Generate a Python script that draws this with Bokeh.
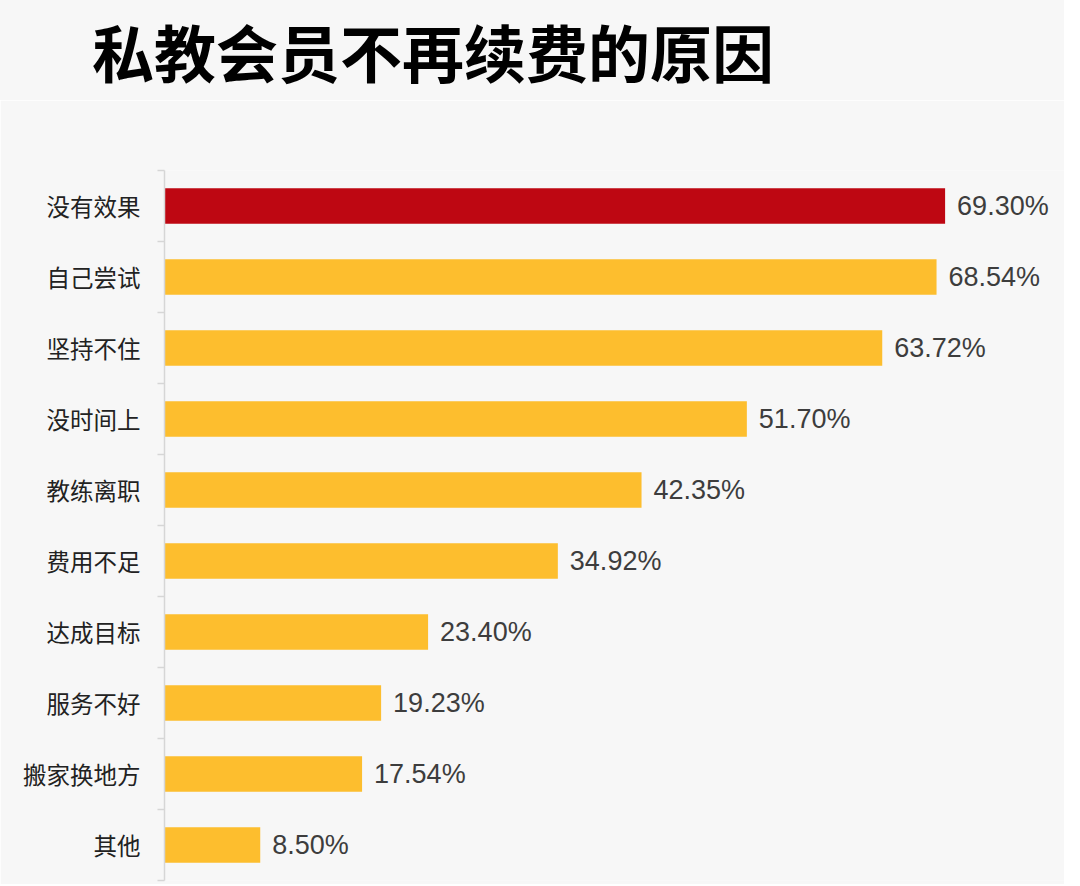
# 私教会员不再续费的原因 - horizontal bar chart

from bokeh.plotting import figure
from bokeh.layouts import column
from bokeh.models import (ColumnDataSource, Range1d, FixedTicker,
                          CustomJSTickFormatter, Div)
from bokeh.core.properties import value
from bokeh.embed import file_html
from bokeh.resources import INLINE

reasons = ["没有效果", "自己尝试", "坚持不住", "没时间上", "教练离职",
           "费用不足", "达成目标", "服务不好", "搬家换地方", "其他"]
shares = [69.30, 68.54, 63.72, 51.70, 42.35, 34.92, 23.40, 19.23, 17.54, 8.50]
bar_colors = ["#BE0712"] + ["#FDBE2E"] * 9

n = len(reasons)
slots = [i + 0.5 for i in range(n)]  # slot centres, top to bottom

source = ColumnDataSource(data=dict(
    slot=slots,
    share=shares,
    color=bar_colors,
    label=["{:.2f}%".format(s) for s in shares],
))

BG = "#f7f7f7"

head = Div(
    text="私教会员不再续费的原因",
    width=1064,
    height=100,
    margin=(0, 0, 0, 0),
    styles={
        "background-color": BG,
        "font-family": "Noto Sans CJK SC",
        "font-size": "62px",
        "font-weight": "bold",
        "color": "#000000",
        "line-height": "1",
        "padding-left": "92px",
        "padding-top": "20px",
        "box-sizing": "border-box",
        "white-space": "nowrap",
    },
)

p = figure(
    width=1064,
    height=784,
    y_range=Range1d(n, 0),
    x_range=Range1d(0, 79.9),
    output_backend="svg",
    toolbar_location=None,
    tools="",
    x_axis_location=None,
    min_border_left=164,
    min_border_right=0,
    min_border_top=70,
    min_border_bottom=4,
    margin=(0, 0, 0, 0),
)
p.background_fill_color = BG
p.border_fill_color = BG
p.outline_line_color = None
p.grid.visible = False

p.hbar(y="slot", right="share", left=0, height=0.5, color="color",
       line_color=None, source=source)

p.text(x="share", y="slot", text="label", source=source,
       x_offset=12, text_align="left", text_baseline="middle",
       text_font=value("Liberation Sans"), text_font_size="27px",
       text_color="#3d3d3d")

# labels at slot centres, short ticks at slot boundaries
ax = p.yaxis[0]
ax.ticker = FixedTicker(ticks=slots, minor_ticks=list(range(n + 1)))
ax.formatter = CustomJSTickFormatter(args=dict(names=reasons),
                                     code="return names[Math.floor(tick)]")
ax.major_tick_out = 0
ax.major_tick_in = 0
ax.minor_tick_out = 7
ax.minor_tick_in = 0
ax.minor_tick_line_color = "#d6d6d6"
ax.minor_tick_line_width = 1.5
ax.axis_line_color = "#d6d6d6"
ax.axis_line_width = 1.5
ax.major_label_standoff = 17
ax.major_label_text_font = "Noto Sans CJK SC"
ax.major_label_text_font_size = "23.5px"
ax.major_label_text_color = "#222222"

page = column(head, p, spacing=0)

open("out.html", "w").write(file_html(page, INLINE))
